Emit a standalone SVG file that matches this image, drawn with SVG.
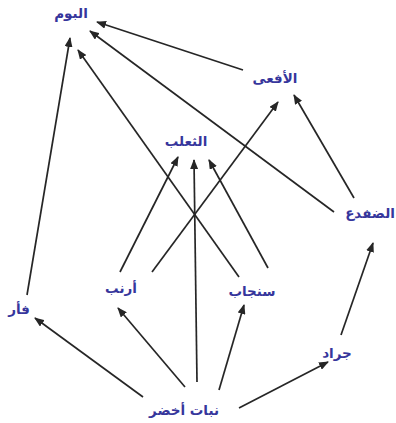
<svg xmlns="http://www.w3.org/2000/svg" width="396" height="423" viewBox="0 0 396 423">
<style>
.bg{fill:#ffffff}
.lbl{font-family:"DejaVu Sans",sans-serif;font-weight:bold;font-size:13.5px;fill:#36369c;text-anchor:middle}
.e{stroke:#262626;stroke-width:1.7;fill:none;marker-end:url(#ah)}
</style>
<defs>
<marker id="ah" viewBox="0 0 10 8" refX="9" refY="4" markerWidth="10" markerHeight="8" markerUnits="userSpaceOnUse" orient="auto">
<path d="M0,0 L10,4 L0,8 z" fill="#262626"/>
</marker>
</defs>
<rect class="bg" width="396" height="423"/>
<g id="connectors">
<line class="e" x1="243" y1="70" x2="97" y2="22"/>
<line class="e" x1="334" y1="212" x2="90" y2="31"/>
<line class="e" x1="27" y1="295" x2="70" y2="38"/>
<line class="e" x1="239" y1="277" x2="78" y2="50"/>
<line class="e" x1="120" y1="272" x2="178" y2="157"/>
<line class="e" x1="197" y1="382" x2="194" y2="160"/>
<line class="e" x1="268" y1="268" x2="209" y2="160"/>
<line class="e" x1="152" y1="272" x2="278" y2="102"/>
<line class="e" x1="354" y1="198" x2="294" y2="95"/>
<line class="e" x1="341" y1="335" x2="373" y2="243"/>
<line class="e" x1="143" y1="397" x2="35" y2="318"/>
<line class="e" x1="185" y1="387" x2="118" y2="308"/>
<line class="e" x1="219" y1="390" x2="244" y2="305"/>
<line class="e" x1="239" y1="408" x2="328" y2="362"/>
</g>
<g id="owl"><text class="lbl" x="71" y="18">البوم</text></g>
<g id="snake"><text class="lbl" x="275" y="83">الأفعى</text></g>
<g id="fox"><text class="lbl" x="186" y="146">الثعلب</text></g>
<g id="frog"><text class="lbl" x="370" y="218">الضفدع</text></g>
<g id="rabbit"><text class="lbl" x="121" y="293">أرنب</text></g>
<g id="squirrel"><text class="lbl" x="252" y="296">سنجاب</text></g>
<g id="mouse"><text class="lbl" x="19" y="314">فأر</text></g>
<g id="locust"><text class="lbl" x="337" y="358">جراد</text></g>
<g id="plant"><text class="lbl" x="184" y="415">نبات أخضر</text></g>
</svg>
